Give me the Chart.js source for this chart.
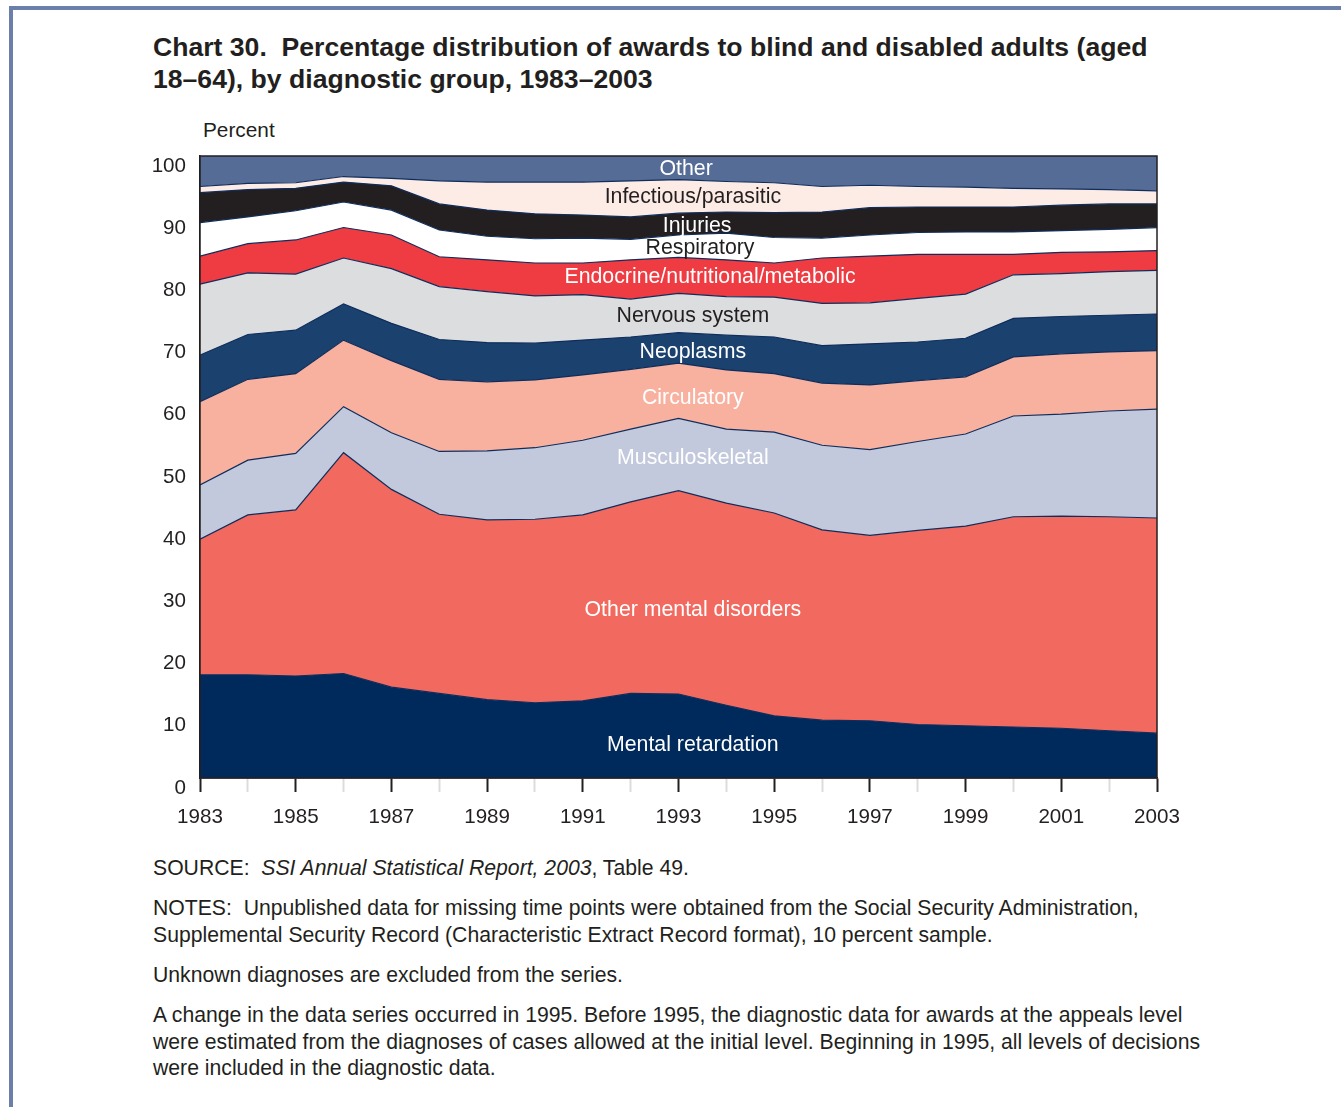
<!DOCTYPE html>
<html>
<head>
<meta charset="utf-8">
<script src="https://cdn.jsdelivr.net/npm/chart.js@4.4.1/dist/chart.umd.min.js"></script>
<style>
  html,body{margin:0;padding:0;background:#fff;}
  body{width:1341px;height:1107px;position:relative;overflow:hidden;font-family:"Liberation Sans",Arial,Helvetica,sans-serif;color:#231f20;}
  #frame{position:absolute;left:9px;top:6px;right:0;bottom:0;border-top:4px solid #6b7fa8;border-left:4px solid #6b7fa8;}
  #title{position:absolute;left:153px;top:31px;font-size:26.6px;font-weight:bold;line-height:32px;white-space:nowrap;}
  #ylab{position:absolute;left:203px;top:117px;font-size:20.8px;line-height:26px;}
  #wrap{position:absolute;left:140px;top:150px;width:1070px;height:678px;}
  .note{position:absolute;left:153px;font-size:21.2px;line-height:26.5px;white-space:nowrap;}
</style>
</head>
<body>
<div id="frame"></div>
<div id="title">Chart 30.&nbsp; Percentage distribution of awards to blind and disabled adults (aged<br>18–64), by diagnostic group, 1983–2003</div>
<div id="ylab">Percent</div>
<div id="wrap"><canvas id="chart"></canvas></div>
<div class="note" style="top:855px">SOURCE:&nbsp; <i>SSI Annual Statistical Report, 2003</i>, Table 49.</div>
<div class="note" style="top:895px">NOTES:&nbsp; Unpublished data for missing time points were obtained from the Social Security Administration,<br>Supplemental Security Record (Characteristic Extract Record format), 10 percent sample.</div>
<div class="note" style="top:962px">Unknown diagnoses are excluded from the series.</div>
<div class="note" style="top:1002px">A change in the data series occurred in 1995. Before 1995, the diagnostic data for awards at the appeals level<br>were estimated from the diagnoses of cases allowed at the initial level. Beginning in 1995, all levels of decisions<br>were included in the diagnostic data.</div>

<script>
// years 1983-2003
const years = [1983,1984,1985,1986,1987,1988,1989,1990,1991,1992,1993,1994,1995,1996,1997,1998,1999,2000,2001,2002,2003];

// percent of awards per diagnostic group
const mentalRetardation = [16.6,16.6,16.4,16.8,14.6,13.6,12.6,12.1,12.4,13.6,13.5,11.7,10.0,9.3,9.2,8.6,8.4,8.2,8.0,7.6,7.2];
const otherMental       = [21.8,25.7,26.7,35.5,31.8,28.8,28.9,29.5,29.9,30.8,32.7,32.5,32.6,30.6,29.8,31.2,32.1,33.8,34.1,34.4,34.6];
const musculoskeletal   = [8.7,8.8,9.1,7.4,9.1,10.1,11.1,11.5,12.0,11.7,11.6,11.9,13.0,13.6,13.8,14.3,14.8,16.2,16.4,17.0,17.5];
const circulatory       = [13.4,13.0,12.8,10.7,11.6,11.6,11.1,10.9,10.5,9.6,8.9,9.5,9.4,10.0,10.4,9.8,9.2,9.5,9.7,9.5,9.4];
const neoplasms         = [7.5,7.2,7.0,5.8,6.0,6.4,6.3,5.9,5.6,5.2,4.9,5.6,5.9,6.0,6.6,6.2,6.2,6.2,6.0,5.9,5.9];
const nervous           = [11.4,9.9,9.0,7.4,8.8,8.5,8.2,7.6,7.3,6.1,6.3,6.2,6.4,6.8,6.6,7.0,7.1,7.0,6.9,7.0,7.0];
const endocrine         = [4.5,4.7,5.5,4.9,5.4,4.8,5.1,5.3,5.1,6.3,5.8,5.9,5.5,7.3,7.5,7.1,6.4,3.3,3.4,3.2,3.2];
const respiratory       = [5.4,4.3,4.7,4.1,4.0,4.3,3.8,3.9,4.0,3.3,3.6,4.3,4.1,3.2,3.4,3.5,3.6,3.6,3.5,3.6,3.7];
const injuries          = [4.8,4.4,3.6,3.2,3.9,4.2,4.2,4.0,3.7,3.6,3.5,3.4,4.0,4.2,4.4,4.1,4.0,4.0,4.1,4.1,3.8];
const infectious        = [1.0,1.0,0.9,0.9,1.2,3.7,4.5,5.1,5.3,5.8,5.4,4.9,4.8,4.1,3.6,3.3,3.2,3.0,2.6,2.3,2.1];
const otherGroup        = [4.9,4.4,4.3,3.3,3.6,4.0,4.2,4.2,4.2,4.0,3.8,4.1,4.3,4.9,4.7,4.9,5.0,5.2,5.3,5.4,5.6];

const groupNames  = ['Mental retardation','Other mental disorders','Musculoskeletal','Circulatory','Neoplasms','Nervous system','Endocrine/nutritional/metabolic','Respiratory','Injuries','Infectious/parasitic','Other'];
const groupValues = [mentalRetardation,otherMental,musculoskeletal,circulatory,neoplasms,nervous,endocrine,respiratory,injuries,infectious,otherGroup];
const groupColors = ['#002a5c','#f1695f','#c3c9dc','#f8b09f','#1b426f','#dcdddf','#ef3b42','#ffffff','#231f20','#fdebe5','#546c96'];

// in-chart labels: [year, percent] anchor and text colour
const labelYear = [1993.3,1993.3,1993.3,1993.3,1993.3,1993.3,1993.66,1993.45,1993.39,1993.3,1993.16];
const labelPct  = [5.3,27.0,51.4,61.1,68.4,74.2,80.5,85.2,88.7,93.4,97.9];
const labelInk  = ['#fff','#fff','#fff','#fff','#fff','#231f20','#fff','#231f20','#fff','#231f20','#fff'];

const datasets = groupNames.map((name, i) => ({
  label: name,
  data: years.map((y, j) => ({x: y, y: groupValues[i][j]})),
  backgroundColor: groupColors[i],
  borderColor: i === groupNames.length - 1 ? 'rgba(0,0,0,0)' : '#0f2d5c',
  borderWidth: 1.2,
  pointRadius: 0,
  tension: 0,
  fill: i === 0 ? 'origin' : '-1'
}));

const bandLabels = {
  id: 'bandLabels',
  afterDatasetsDraw(chart){
    const {ctx, scales:{x, y}} = chart;
    ctx.save();
    ctx.font = '21.3px "Liberation Sans", Arial, sans-serif';
    ctx.textAlign = 'center';
    ctx.textBaseline = 'middle';
    groupNames.forEach((name, i) => {
      ctx.fillStyle = labelInk[i];
      ctx.fillText(name, x.getPixelForValue(labelYear[i]), y.getPixelForValue(labelPct[i]));
    });
    ctx.restore();
  },
  afterDraw(chart){
    const {ctx, chartArea:a} = chart;
    ctx.save();
    ctx.strokeStyle = '#231f20';
    ctx.lineWidth = 1.5;
    ctx.strokeRect(a.left, a.top, a.right - a.left, a.bottom - a.top);
    ctx.restore();
  }
};

const tickFont = { size: 20.6, family: '"Liberation Sans", Arial, sans-serif' };

new Chart(document.getElementById('chart'), {
  type: 'line',
  data: { datasets },
  options: {
    responsive: true,
    maintainAspectRatio: false,
    animation: false,
    layout: { padding: { top: 6, right: 53, left: 0, bottom: 0 } },
    plugins: { legend: { display: false }, tooltip: { enabled: false } },
    scales: {
      x: {
        type: 'linear',
        min: 1983, max: 2003,
        afterFit(s){ s.height = 50; s.paddingLeft = 0; s.paddingRight = 0; },
        ticks: {
          stepSize: 1,
          autoSkip: false,
          maxRotation: 0,
          padding: 13,
          color: '#231f20',
          font: tickFont,
          callback: v => (v % 2 === 1 ? String(v) : '')
        },
        grid: {
          drawOnChartArea: false,
          drawTicks: true,
          tickLength: 14,
          tickWidth: 2,
          tickColor: c => (c.tick && c.tick.value % 2 === 1 ? '#231f20' : '#dcdcdc')
        },
        border: { color: '#231f20', width: 1.5 }
      },
      y: {
        stacked: true,
        min: 0, max: 100,
        afterFit(s){ s.width = 60; s.paddingTop = 0; s.paddingBottom = 0; },
        ticks: {
          stepSize: 10,
          padding: 14,
          labelOffset: 10,
          color: '#231f20',
          font: tickFont
        },
        grid: { drawOnChartArea: false, drawTicks: false },
        border: { color: '#231f20', width: 1.5 }
      }
    }
  },
  plugins: [bandLabels]
});
</script>
</body>
</html>
